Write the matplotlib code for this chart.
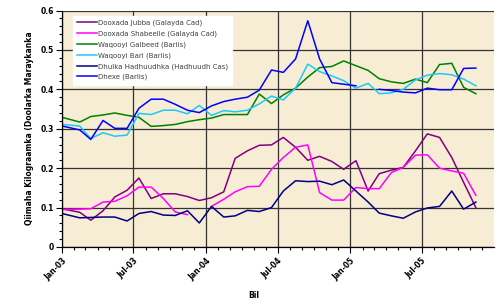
import numpy as np
import pandas as pd
import matplotlib
matplotlib.use("Agg")
import matplotlib.pyplot as plt
import matplotlib.dates as mdates

# first point sits on 1 Jan 2003, the rest are mid-month readings
dates = pd.to_datetime(["2003-01-01"] + list(pd.date_range("2003-01-15", periods=34, freq="MS") + pd.Timedelta(days=14)))

jubba = [0.097, 0.088, 0.068, 0.092, 0.127, 0.144, 0.175, 0.123, 0.135, 0.135, 0.128, 0.118,
         0.125, 0.140, 0.225, 0.244, 0.258, 0.259, 0.278, 0.253, 0.220, 0.230, 0.217, 0.197,
         0.219, 0.142, 0.186, 0.195, 0.202, 0.244, 0.287, 0.278, 0.227, 0.164, 0.100]
shabeelle = [0.095, 0.096, 0.097, 0.114, 0.116, 0.130, 0.152, 0.152, 0.123, 0.089, 0.082, np.nan,
             0.103, 0.121, 0.140, 0.153, 0.154, 0.197, 0.227, 0.253, 0.259, 0.138, 0.119, 0.119,
             0.151, 0.148, 0.148, 0.189, 0.202, 0.233, 0.234, 0.200, 0.193, 0.187, 0.131]
galbeed = [0.329, 0.317, 0.331, 0.335, 0.340, 0.334, 0.329, 0.306, 0.308, 0.311, 0.318, 0.323,
           0.327, 0.336, 0.336, 0.336, 0.388, 0.364, 0.386, 0.403, 0.431, 0.455, 0.458, 0.472,
           0.460, 0.448, 0.427, 0.419, 0.415, 0.426, 0.417, 0.463, 0.466, 0.405, 0.389]
bari = [0.311, 0.307, 0.275, 0.290, 0.281, 0.284, 0.339, 0.336, 0.347, 0.347, 0.338, 0.359,
        0.334, 0.346, 0.343, 0.347, 0.363, 0.383, 0.373, 0.403, 0.464, 0.445, 0.434, 0.422,
        0.403, 0.415, 0.389, 0.391, 0.400, 0.424, 0.436, 0.440, 0.437, 0.426, 0.409]
dhulka = [0.085, 0.074, 0.075, 0.076, 0.076, 0.066, 0.085, 0.090, 0.081, 0.080, 0.092, 0.061,
          0.103, 0.076, 0.079, 0.093, 0.090, 0.100, 0.142, 0.168, 0.166, 0.167, 0.158, 0.170,
          0.142, 0.114, 0.086, 0.079, 0.073, 0.089, 0.099, 0.103, 0.142, 0.096, 0.114]
dhexe = [0.307, 0.297, 0.273, 0.321, 0.301, 0.301, 0.352, 0.375, 0.375, 0.362, 0.347, 0.341,
         0.358, 0.369, 0.375, 0.380, 0.398, 0.449, 0.443, 0.477, 0.574, 0.477, 0.417, 0.413,
         0.409, np.nan, 0.400, 0.397, 0.393, 0.391, 0.403, 0.399, 0.399, 0.453, 0.454]

series = [
    ("Dooxada Jubba (Galayda Cad)", jubba, "#800080"),
    ("Dooxada Shabeelle (Galayda Cad)", shabeelle, "#FF00FF"),
    ("Waqooyi Galbeed (Bariis)", galbeed, "#008000"),
    ("Waqooyi Bari (Bariis)", bari, "#1EC8FA"),
    ("Dhulka Hadhuudhka (Hadhuudh Cas)", dhulka, "#000080"),
    ("Dhexe (Bariis)", dhexe, "#0000FF"),
]

fig = plt.figure(figsize=(4.96, 3.02), dpi=100)
ax = fig.add_axes([62 / 496, 1 - 247 / 302, 432 / 496, 236.5 / 302])
ax.set_facecolor("#F7EDD4")

for name, vals, col in series:
    ax.plot(dates, vals, color=col, lw=1.1, label=name)

ax.set_xlim(pd.Timestamp("2003-01-01"), pd.Timestamp("2005-12-31"))
ax.set_ylim(0, 0.6)

ax.xaxis.set_major_locator(mdates.MonthLocator(bymonth=[1, 7]))
ax.xaxis.set_minor_locator(mdates.MonthLocator())
ax.xaxis.set_major_formatter(mdates.DateFormatter("%b-%y"))
ax.set_yticks(np.arange(0, 0.61, 0.1))
ax.set_yticks(np.arange(0, 0.61, 0.02), minor=True)
ax.yaxis.set_major_formatter(matplotlib.ticker.FuncFormatter(lambda v, p: "0" if v == 0 else "%.1f" % v))

ax.grid(True, which="major", color="#333333", lw=0.9)
ax.set_axisbelow(True)
ax.tick_params(which="both", direction="out", color="black", width=0.8)
ax.tick_params(which="major", length=4, labelsize=5.5, pad=2)
ax.tick_params(which="minor", length=2.5)
ax.tick_params(axis="x", which="major", pad=3)
for lab in ax.get_xticklabels():
    lab.set_rotation(45)
    lab.set_ha("right")
    lab.set_rotation_mode("anchor")
    lab.set_fontweight("bold")
for lab in ax.get_yticklabels():
    lab.set_fontweight("bold")

for s in ["top", "right"]:
    ax.spines[s].set_visible(False)
for s in ["left", "bottom"]:
    ax.spines[s].set_color("black")
    ax.spines[s].set_linewidth(0.9)

fig.text(30 / 496, 1 - 128 / 302, "Qiimaha Kilograamka (Doolarka Maraykanka", fontsize=5.5,
         fontweight="bold", rotation=90, ha="center", va="center")
fig.text(254 / 496, 1 - 295 / 302, "Bil", fontsize=5.5, fontweight="bold", ha="center", va="center")

leg = ax.legend(loc="upper left", bbox_to_anchor=(0.025, 0.978), fontsize=5, frameon=True,
                fancybox=False, handlelength=2.9, handletextpad=0.1, labelspacing=0.62,
                borderpad=0.6, borderaxespad=0)
leg.get_frame().set_facecolor("white")
leg.get_frame().set_edgecolor("white")
leg.get_frame().set_alpha(1)
for t in leg.get_texts():
    t.set_color("#404040")

fig.savefig("out.png", dpi=100)
